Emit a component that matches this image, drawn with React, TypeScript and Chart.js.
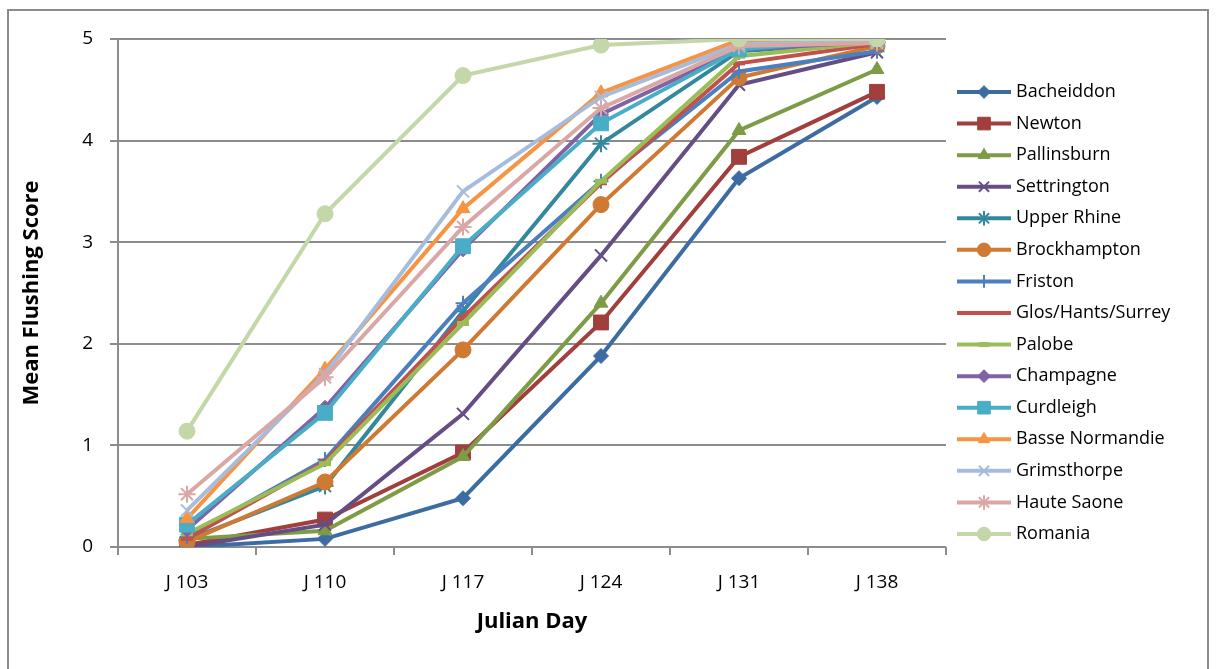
import React, { useEffect, useRef } from 'react';
import { Chart, registerables } from 'chart.js';
import { drawPoint } from 'chart.js/helpers';

Chart.register(...registerables);

// Sampling days and score axis
const categories = ['J 103', 'J 110', 'J 117', 'J 124', 'J 131', 'J 138'];
const yTickValues = [0, 1, 2, 3, 4, 5];

// Mean flushing score per provenance
const bacheiddon = [0.0, 0.08, 0.48, 1.88, 3.63, 4.43];
const newton = [0.02, 0.27, 0.93, 2.21, 3.84, 4.48];
const pallinsburn = [0.08, 0.16, 0.89, 2.4, 4.1, 4.7];
const settrington = [0.0, 0.22, 1.31, 2.87, 4.55, 4.87];
const upperRhine = [0.07, 0.6, 2.32, 3.97, 4.88, 4.97];
const brockhampton = [0.05, 0.64, 1.94, 3.37, 4.62, 4.93];
const friston = [0.1, 0.86, 2.4, 3.6, 4.68, 4.88];
const glosHantsSurrey = [0.08, 0.84, 2.26, 3.58, 4.76, 4.95];
const palobe = [0.13, 0.82, 2.2, 3.6, 4.83, 4.97];
const champagne = [0.17, 1.37, 2.93, 4.26, 4.9, 4.97];
const curdleigh = [0.22, 1.32, 2.96, 4.17, 4.9, 5.0];
const basseNormandie = [0.28, 1.75, 3.33, 4.47, 4.99, 4.98];
const grimsthorpe = [0.36, 1.7, 3.5, 4.43, 4.95, 4.97];
const hauteSaone = [0.52, 1.67, 3.15, 4.32, 4.93, 4.96];
const romania = [1.14, 3.28, 4.64, 4.94, 5.0, 5.0];

const seriesNames = [
  'Bacheiddon', 'Newton', 'Pallinsburn', 'Settrington', 'Upper Rhine',
  'Brockhampton', 'Friston', 'Glos/Hants/Surrey', 'Palobe', 'Champagne',
  'Curdleigh', 'Basse Normandie', 'Grimsthorpe', 'Haute Saone', 'Romania',
];
const seriesValues = [
  bacheiddon, newton, pallinsburn, settrington, upperRhine,
  brockhampton, friston, glosHantsSurrey, palobe, champagne,
  curdleigh, basseNormandie, grimsthorpe, hauteSaone, romania,
];

// Styling per series
const seriesColors = [
  '#3D6CA2', '#A03F3C', '#7E9B47', '#654E85', '#34889E',
  '#CF7A32', '#4A7FC0', '#C2504C', '#9ABD58', '#7F63A4',
  '#4AADC8', '#F79444', '#A6BCDC', '#D9A7A5', '#C4D7A8',
];
const markerStyles = [
  'rectRot', 'rect', 'triangle', 'crossRot', 'star',
  'circle', 'cross', 'line', 'line', 'rectRot',
  'rect', 'triangle', 'crossRot', 'star', 'circle',
];
const markerRadii = [7.5, 10.5, 8, 8.5, 8.5, 8, 7.5, 6, 6, 7.5, 10.5, 8, 8.5, 8.5, 8];
const markerBorders = [1, 1, 1, 2, 2, 1, 2, 4, 5, 1, 1, 1, 2, 2, 1];

const FONT = '"Open Sans", "DejaVu Sans", sans-serif';
const AXIS_GRAY = '#8C8C8C';

const frame = {
  id: 'frame',
  beforeDraw(chart: any) {
    const ctx = chart.ctx;
    ctx.save();
    ctx.fillStyle = '#FFFFFF';
    ctx.fillRect(0, 0, chart.width, chart.height);
    ctx.strokeStyle = AXIS_GRAY;
    ctx.lineWidth = 2;
    ctx.strokeRect(8, 10, 1200, 662);
    ctx.restore();
  },
};

const lineLegend = {
  id: 'lineLegend',
  afterDraw(chart: any) {
    const ctx = chart.ctx;
    const x0 = 957;
    const x1 = 1011;
    const tx = 1016;
    const y0 = 92;
    const step = 31.57;
    chart.data.datasets.forEach((ds: any, i: number) => {
      const y = y0 + i * step;
      ctx.save();
      ctx.strokeStyle = ds.borderColor;
      ctx.lineWidth = ds.borderWidth;
      ctx.beginPath();
      ctx.moveTo(x0, y);
      ctx.lineTo(x1, y);
      ctx.stroke();
      ctx.fillStyle = ds.pointBackgroundColor;
      ctx.strokeStyle = ds.pointBorderColor;
      ctx.lineWidth = ds.pointBorderWidth;
      drawPoint(ctx, {
        pointStyle: ds.pointStyle,
        rotation: 0,
        radius: ds.pointRadius * 0.85,
        borderWidth: ds.pointBorderWidth,
      }, (x0 + x1) / 2, y);
      ctx.fillStyle = '#000000';
      ctx.font = `18px ${FONT}`;
      ctx.textAlign = 'left';
      ctx.textBaseline = 'middle';
      ctx.fillText(ds.label, tx, y);
      ctx.restore();
    });
  },
};

export default function App() {
  const canvasRef = useRef<HTMLCanvasElement | null>(null);

  useEffect(() => {
    document.body.style.margin = '0';
    const canvas = canvasRef.current;
    if (!canvas) return;

    const datasets = seriesNames.map((name, i) => ({
      label: name,
      data: seriesValues[i],
      borderColor: seriesColors[i],
      backgroundColor: seriesColors[i],
      borderWidth: 4,
      pointStyle: markerStyles[i],
      pointRadius: markerRadii[i],
      pointBackgroundColor: seriesColors[i],
      pointBorderColor: seriesColors[i],
      pointBorderWidth: markerBorders[i],
      tension: 0,
      fill: false,
      order: seriesNames.length - i,
    }));

    const chart = new Chart(canvas, {
      type: 'line',
      data: { labels: categories, datasets },
      options: {
        responsive: false,
        animation: false,
        events: [],
        layout: { padding: { left: 0, top: 39, right: 270, bottom: 0 } },
        plugins: {
          legend: { display: false },
          tooltip: { enabled: false },
        },
        scales: {
          x: {
            type: 'category',
            offset: true,
            grid: {
              offset: true,
              drawOnChartArea: false,
              drawTicks: true,
              tickLength: 8,
              color: AXIS_GRAY,
              lineWidth: 2,
            },
            border: { display: false },
            ticks: {
              color: '#000000',
              font: { family: FONT, size: 19 },
              padding: 16,
              maxRotation: 0,
            },
            title: {
              display: true,
              text: 'Julian Day',
              color: '#000000',
              font: { family: FONT, size: 22, weight: 'bold' },
              padding: { top: 0, bottom: 34 },
            },
            afterFit(scale: any) {
              scale.height = 669 - 547;
            },
          },
          y: {
            min: 0,
            max: 5,
            afterBuildTicks(scale: any) {
              scale.ticks = yTickValues.map((v) => ({ value: v }));
            },
            grid: {
              color: AXIS_GRAY,
              lineWidth: 2,
              drawTicks: true,
              tickLength: 8,
            },
            border: { display: true, color: AXIS_GRAY, width: 2 },
            ticks: {
              color: '#000000',
              font: { family: FONT, size: 19 },
              padding: 17,
            },
            title: {
              display: true,
              text: 'Mean Flushing Score',
              color: '#000000',
              font: { family: FONT, size: 22, weight: 'bold' },
              padding: { top: 19, bottom: 0 },
            },
            afterFit(scale: any) {
              scale.width = 118;
            },
          },
        },
      },
      plugins: [frame, lineLegend],
    });

    return () => chart.destroy();
  }, []);

  return (
    <div style={{ width: 1216, height: 669 }}>
      <canvas ref={canvasRef} width={1216} height={669} style={{ display: 'block' }} />
    </div>
  );
}
